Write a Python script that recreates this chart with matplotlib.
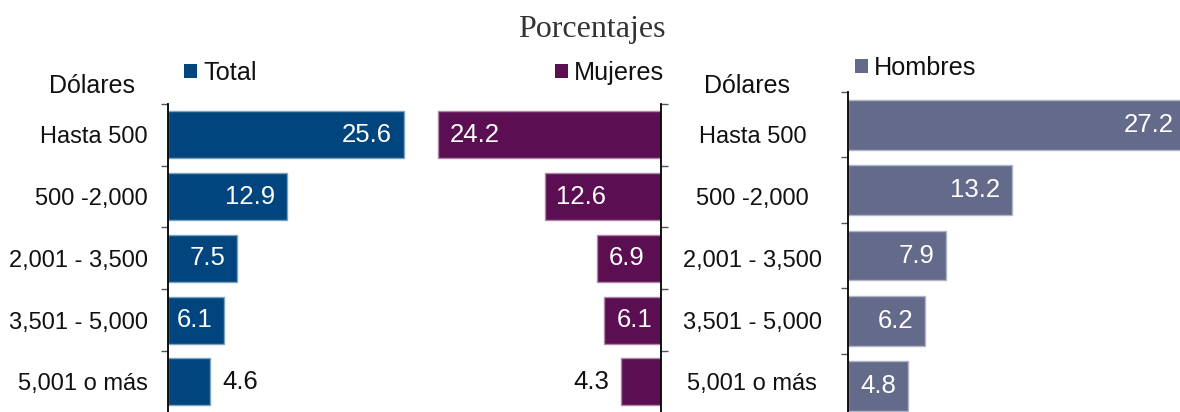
import matplotlib
matplotlib.use("Agg")
import matplotlib.pyplot as plt
from matplotlib.patches import Patch
import numpy as np

plt.rcParams['font.family'] = ['Liberation Sans', 'DejaVu Sans']

# Income brackets (US dollars) and share of remittance senders, in percent
categories = ["Hasta 500", "500 -2,000", "2,001 - 3,500", "3,501 - 5,000", "5,001 o más"]
total = [25.6, 12.9, 7.5, 6.1, 4.6]
mujeres = [24.2, 12.6, 6.9, 6.1, 4.3]
hombres = [27.2, 13.2, 7.9, 6.2, 4.8]
series_names = ["Total", "Mujeres", "Hombres"]
colors = ["#00457E", "#5B0F52", "#636A8A"]
edge_colors = ["#7FA2BF", "#AD87A8", "#B1B4C4"]

W, H = 1180, 412
fig = plt.figure(figsize=(W / 100, H / 100), dpi=100)


def px_axes(left, top, width, height):
    return fig.add_axes([left / W, 1 - (top + height) / H, width / W, height / H])


ax_t = px_axes(168, 104, 276.6, 308.75)
ax_m = px_axes(660.7 - 276.6, 104, 276.6, 308.75)
ax_h = px_axes(848, 92, 332, 327)

ax_t.set_xlim(0, 30)
ax_m.set_xlim(30, 0)
ax_h.set_xlim(0, 26.73)

y = np.arange(len(categories))
TXT = "#111111"
FS_CAT = 17
FS_VAL = 18.5
FS_LEG = 18.2

for ax, vals, col, ecol in zip((ax_t, ax_m, ax_h), (total, mujeres, hombres), colors, edge_colors):
    ax.set_facecolor("none")
    ax.set_ylim(len(categories) - 0.5, -0.5)
    ax.barh(y, vals, height=0.76, color=col, edgecolor=ecol, linewidth=1.0)
    for s in ("top", "bottom"):
        ax.spines[s].set_visible(False)
    ax.set_xticks([])
    ax.set_yticks(y)
    ax.set_yticks(np.arange(-0.5, len(categories), 1), minor=True)
    ax.tick_params(axis="y", which="major", length=0)
    ax.tick_params(axis="y", which="minor", length=5, width=1, color="#555555")

    # value labels: inside the bar end when there is room, otherwise just outside
    x0 = ax.transData.transform((0, 0))[0]
    for v, yy in zip(vals, y):
        x1 = ax.transData.transform((v, 0))[0]
        sign = 1 if x1 > x0 else -1
        inside = abs(x1 - x0) >= 50
        if inside:
            off, ha, c = -sign * 8.5, ("right" if sign > 0 else "left"), "white"
        else:
            off, ha, c = sign * 8.5, ("left" if sign > 0 else "right"), TXT
        ax.annotate(f"{v:.1f}", xy=(v, yy), xytext=(off, 0), textcoords="offset points",
                    ha=ha, va="center", color=c, fontsize=FS_VAL, annotation_clip=False)

# left panel: labels right-aligned next to the axis
ax_t.spines["right"].set_visible(False)
ax_t.spines["left"].set_linewidth(1.3)
ax_t.set_yticklabels(categories, fontsize=FS_CAT, color=TXT)
ax_t.tick_params(axis="y", which="major", pad=14.5)

# middle panel: axis on the right, bars growing leftwards, labels centred in the gap
ax_m.spines["left"].set_visible(False)
ax_m.spines["right"].set_linewidth(1.3)
ax_m.yaxis.tick_right()
ax_m.tick_params(axis="y", which="both", left=False, right=True)
ax_m.tick_params(axis="y", which="major", pad=66)
ax_m.set_yticklabels(categories, fontsize=FS_CAT, color=TXT)
for lab in ax_m.get_yticklabels():
    lab.set_ha("center")

# right panel: bare axis
ax_h.spines["right"].set_visible(False)
ax_h.spines["left"].set_linewidth(1.3)
ax_h.set_yticklabels([])

# legends
for name, col, (lx, ly) in zip(series_names, colors, [(184, 73), (555, 73), (855, 68)]):
    fig.legend(handles=[Patch(facecolor=col, edgecolor="none", label=name)],
               loc="center left", bbox_to_anchor=(lx / W, 1 - ly / H),
               frameon=False, borderpad=0, borderaxespad=0, fontsize=FS_LEG,
               handlelength=0.53, handleheight=0.53, handletextpad=0.22,
               labelcolor=TXT)

fig.text(92 / W, 1 - 86 / H, "Dólares", ha="center", va="center", fontsize=18, color=TXT)
fig.text(747 / W, 1 - 86 / H, "Dólares", ha="center", va="center", fontsize=18, color=TXT)
fig.text(592 / W, 1 - 30 / H, "Porcentajes", ha="center", va="center", fontsize=23,
         family=["Liberation Serif", "DejaVu Serif"], color="#333333")

fig.savefig("out.png", dpi=100)
